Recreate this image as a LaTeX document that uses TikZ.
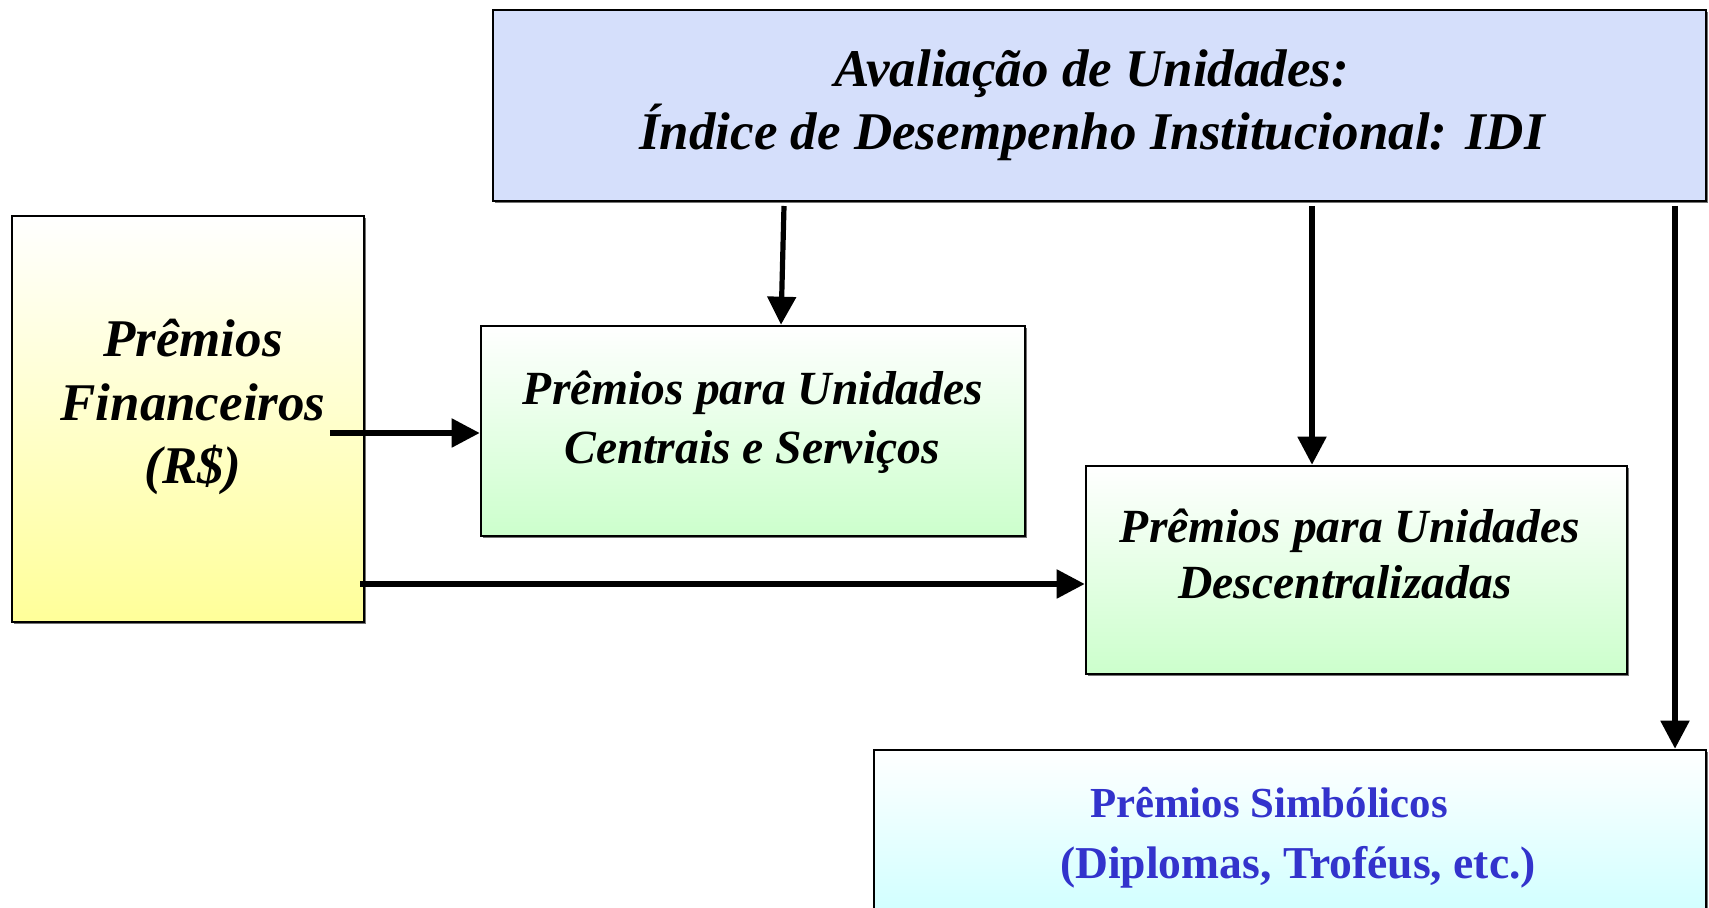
\documentclass[tikz,border=0pt]{standalone}
\usepackage{fontspec}
\setmainfont{Liberation Serif}
\usetikzlibrary{arrows.meta,shadows}
\definecolor{topblue}{HTML}{D5DFFB}
\definecolor{yel}{HTML}{FFFF99}
\definecolor{grn}{HTML}{CCFFCC}
\definecolor{cyn}{HTML}{CCFFFF}
\definecolor{txtblue}{HTML}{3333CC}
\begin{document}
\begin{tikzpicture}[x=0.5pt,y=-0.5pt,
  box/.style={draw=black, line width=1.3pt, inner sep=0pt, rectangle,
    drop shadow={shadow xshift=1pt, shadow yshift=-1pt, fill=black!55, opacity=1}},
  arr/.style={line width=2.6pt, -{Triangle[length=14pt,width=14pt]}},
  bigtxt/.style={font=\fontsize{26.5}{30}\selectfont\bfseries\itshape, inner sep=0pt, anchor=base},
  midtxt/.style={font=\fontsize{23.8}{28}\selectfont\bfseries\itshape, inner sep=0pt, anchor=base},
  bluetxt/.style={text=txtblue, inner sep=0pt, anchor=base}]
\useasboundingbox (0,0) rectangle (1709,908);
\begin{scope}
\clip (0,0) rectangle (1709,908);
% boxes
\node[box, fill=topblue, minimum width=606.5pt, minimum height=95.5pt] (top) at (1099.5,105.5) {};
\node[box, top color=white, bottom color=yel, minimum width=176pt, minimum height=203pt] (fin) at (188,419) {};
\node[box, top color=white, bottom color=grn, minimum width=272pt, minimum height=105pt] (g1) at (753,431) {};
\node[box, top color=white, bottom color=grn, minimum width=270.5pt, minimum height=104pt] (g2) at (1356.5,570) {};
\node[box, top color=white, bottom color=cyn, minimum width=416pt, minimum height=90pt] (cy) at (1290,840) {};
\end{scope}
% texts
\node[bigtxt] (t1) at (1092,87) {Avaliação de Unidades:};
\node[bigtxt] (t2) at (1092,150) {Índice de Desempenho Institucional: IDI};
\node[bigtxt] (f1) at (193,357) {Prêmios};
\node[bigtxt] (f2) at (193,421) {Financeiros};
\node[bigtxt] (f3) at (193,484) {(R\$)};
\node[midtxt] (c1) at (753,405) {Prêmios para Unidades};
\node[midtxt] (c2) at (752,464) {Centrais e Serviços};
\node[midtxt] (d1) at (1350,543) {Prêmios para Unidades};
\node[midtxt] (d2) at (1345,599) {Descentralizadas};
\node[bluetxt, font=\fontsize{21.4}{26}\selectfont\bfseries] (s1) at (1269,817) {Prêmios Simbólicos};
\node[bluetxt, font=\fontsize{22.8}{26}\selectfont\bfseries] (s2) at (1298,878) {(Diplomas, Troféus, etc.)};
% connectors
\coordinate (a1) at (784,206);
\coordinate (a2) at (1312,206);
\coordinate (a3) at (1675,206);
\coordinate (h1) at (330,433);
\coordinate (h2) at (360,584);
\draw[arr] (a1) -- ([xshift=14pt]g1.north);
\draw[arr] (a2) -- (a2 |- g2.north);
\draw[arr] (a3) -- (a3 |- cy.north);
\draw[arr] (h1) -- (h1 -| g1.west);
\draw[arr] (h2) -- (h2 -| g2.west);
\end{tikzpicture}
\end{document}
